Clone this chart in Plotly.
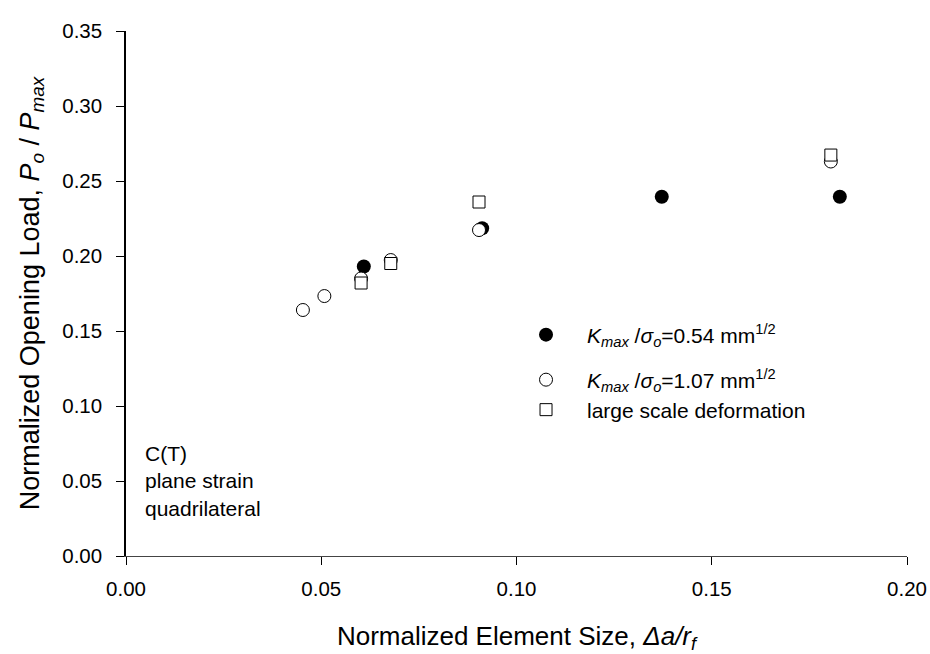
import plotly.graph_objects as go

# Normalized element size (da / r_f) and normalized opening load (Po / Pmax)
x_k054 = [0.0609, 0.0912, 0.1372, 0.1828]
y_k054 = [0.193, 0.2185, 0.2395, 0.2395]

x_k107 = [0.0453, 0.0508, 0.0602, 0.0678, 0.0904, 0.1805]
y_k107 = [0.164, 0.1733, 0.185, 0.1973, 0.2173, 0.263]

x_lsd = [0.0602, 0.0678, 0.0904, 0.1805]
y_lsd = [0.182, 0.195, 0.236, 0.2673]

x_ticks = [0.00, 0.05, 0.10, 0.15, 0.20]
y_ticks = [0.00, 0.05, 0.10, 0.15, 0.20, 0.25, 0.30, 0.35]

FONT = "Liberation Sans, Arial, sans-serif"
TICK = dict(family=FONT, size=20.5, color="black")
LEG = dict(family=FONT, size=21, color="black")

fig = go.Figure()

fig.add_trace(go.Scatter(
    x=x_k054, y=y_k054, mode="markers", legend="legend",
    name="<i>K</i><sub><i>max</i></sub> /<i>σ</i><sub><i>o</i></sub>=0.54 mm<sup>1/2</sup>",
    marker=dict(symbol="circle", size=14, color="black",
                line=dict(color="black", width=0)),
))
fig.add_trace(go.Scatter(
    x=x_k107, y=y_k107, mode="markers", legend="legend2",
    name="<i>K</i><sub><i>max</i></sub> /<i>σ</i><sub><i>o</i></sub>=1.07 mm<sup>1/2</sup>",
    marker=dict(symbol="circle", size=13, color="white",
                line=dict(color="black", width=1)),
))
fig.add_trace(go.Scatter(
    x=x_lsd, y=y_lsd, mode="markers", legend="legend3",
    name="large scale deformation",
    marker=dict(symbol="square", size=12, color="white",
                line=dict(color="black", width=1)),
))

fig.add_annotation(
    x=0.0044, y=0.05, xref="x", yref="y",
    text="C(T)<br>plane strain<br>quadrilateral",
    showarrow=False, xanchor="left", yanchor="middle", align="left",
    font=LEG,
)

axis_common = dict(
    showgrid=False, zeroline=False, showline=True, automargin=False,
    ticks="outside", ticklen=8, tickcolor="black", tickwidth=1,
    tickfont=TICK,
)

fig.update_xaxes(
    range=[0, 0.2], tickvals=x_ticks,
    ticktext=[f"{v:.2f}" for v in x_ticks],
    linecolor="#444444", linewidth=1,
    ticklabelstandoff=6,
    title=dict(text="Normalized Element Size, <i>Δa/r</i><sub><i>f</i></sub>",
               font=dict(family=FONT, size=26, color="black"), standoff=28),
    **axis_common,
)
fig.update_yaxes(
    range=[0, 0.35], tickvals=y_ticks,
    ticktext=[f"{v:.2f}" for v in y_ticks],
    linecolor="black", linewidth=1.5,
    ticklabelstandoff=10,
    title=dict(text="Normalized Opening Load, <i>P</i><sub><i>o</i></sub> / <i>P</i><sub><i>max</i></sub>",
               font=dict(family=FONT, size=27, color="black"), standoff=15),
    **axis_common,
)

legend_common = dict(
    xref="paper", yref="paper", xanchor="left", yanchor="middle",
    bgcolor="rgba(0,0,0,0)", borderwidth=0, font=LEG, itemwidth=72,
)

fig.update_layout(
    width=930, height=654,
    margin=dict(l=126, r=23, t=31, b=98),
    paper_bgcolor="white", plot_bgcolor="white",
    font=TICK,
    showlegend=True,
    legend=dict(x=0.4853, y=0.421, **legend_common),
    legend2=dict(x=0.4853, y=0.3352, **legend_common),
    legend3=dict(x=0.4853, y=0.2781, **legend_common),
)

fig.write_html("out.html")
